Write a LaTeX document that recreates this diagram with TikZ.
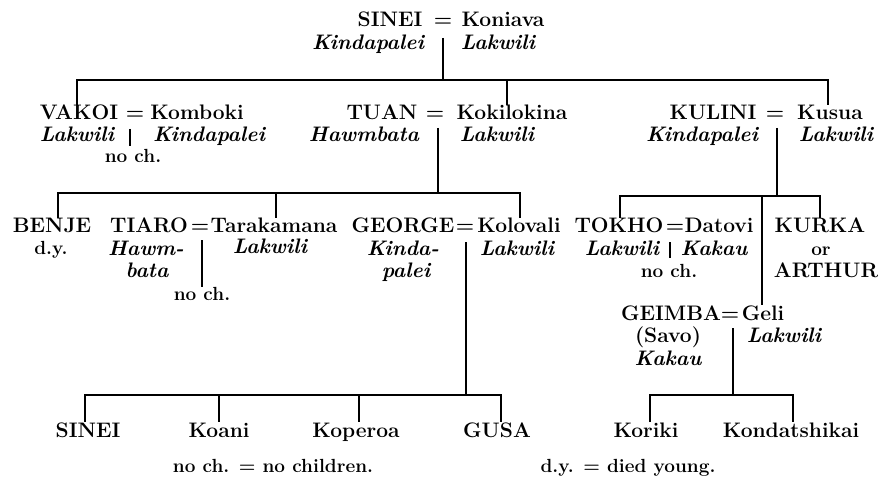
\documentclass[tikz,border=0pt]{standalone}
\begin{document}
\begin{tikzpicture}[x=1pt,y=-1pt,
  nm/.style={anchor=base,inner sep=0pt,font=\fontsize{21}{23}\selectfont\bfseries},
  cl/.style={anchor=base,inner sep=0pt,font=\fontsize{21}{23}\selectfont\bfseries\itshape},
  sm/.style={anchor=base,inner sep=0pt,font=\fontsize{19}{21}\selectfont\bfseries},
  ln/.style={line width=1.3pt}]
\useasboundingbox (0,0) rectangle (883,481);
% ---------- generation 0
\node[nm] (sinei0) at (390,27) {SINEI};
\node[nm] (eq0) at (443,27) {=};
\node[nm] (koniava) at (503,27) {Koniava};
\node[cl] (kin0) at (368,50) {Kindapalei};
\node[cl] (lak0) at (498,50) {Lakwili};
\coordinate (m0) at (443,38);
\coordinate (b0L) at (77,80);
\coordinate (b0R) at (828,80);
\coordinate (t0) at (507,80);
% ---------- generation 1
\node[nm] (vakoi) at (79,120) {VAKOI};
\node[nm] (eq1) at (135,120) {=};
\node[nm] (komboki) at (197,120) {Komboki};
\node[cl] (lak1) at (77,142) {Lakwili};
\node[cl] (kin1) at (209,142) {Kindapalei};
\node[sm] (noch1) at (133,163) {no ch.};
\coordinate (m1) at (130,129);
\coordinate (m1e) at (130,146);

\node[nm] (tuan) at (382,120) {TUAN};
\node[nm] (eq2) at (435,120) {=};
\node[nm] (kok) at (512,120) {Kokilokina};
\node[cl] (haw2) at (364,142) {Hawmbata};
\node[cl] (lak2) at (497,142) {Lakwili};
\coordinate (m2) at (438,128);
\coordinate (bAL) at (58,193);
\coordinate (bAR) at (520,193);
\coordinate (tA) at (276,193);

\node[nm] (kulini) at (713,120) {KULINI};
\node[nm] (eq3) at (775,120) {=};
\node[nm] (kusua) at (830,120) {Kusua};
\node[cl] (kin3) at (702,142) {Kindapalei};
\node[cl] (lak3) at (836,142) {Lakwili};
\coordinate (m3) at (777,128);
\coordinate (bBL) at (620,196);
\coordinate (bBR) at (820,196);
\coordinate (tB) at (762,196);
% ---------- generation 2 (Tuan)
\node[nm] (benje) at (52,233) {BENJE};
\node[sm] (dy) at (51,254) {d.y.};

\node[nm] (tiaro) at (149,233) {TIARO};
\node[nm] (eq4) at (200,233) {=};
\node[nm] (tarak) at (274,233) {Tarakamana};
\node[cl] (haw4) at (146,255) {Hawm-};
\node[cl] (bata) at (147,277) {bata};
\node[cl] (lak4) at (270,253) {Lakwili};
\node[sm] (noch4) at (202,300) {no ch.};
\coordinate (m4) at (202,240);

\node[nm] (george) at (403,233) {GEORGE};
\node[nm] (eq5) at (465,233) {=};
\node[nm] (kolovali) at (519,233) {Kolovali};
\node[cl] (kinda) at (403,255) {Kinda-};
\node[cl] (palei) at (406,277) {palei};
\node[cl] (lak5) at (517,255) {Lakwili};
\coordinate (m5) at (466,242);
\coordinate (bCL) at (85,395);
\coordinate (bCR) at (501,395);
\coordinate (c2) at (219,395);
\coordinate (c3) at (359,395);
% ---------- generation 2 (Kulini)
\node[nm] (tokho) at (619,233) {TOKHO};
\node[nm] (eq6) at (675,233) {=};
\node[nm] (datovi) at (719,233) {Datovi};
\node[cl] (lak6) at (622,255) {Lakwili};
\node[cl] (kakau6) at (714,255) {Kakau};
\node[sm] (noch6) at (669,277) {no ch.};
\coordinate (m6) at (670,242);
\coordinate (m6e) at (670,258);

\node[nm] (kurka) at (820,233) {KURKA};
\node[sm] (or) at (821,255) {or};
\node[nm] (arthur) at (826,277) {ARTHUR};

\node[nm] (geimba) at (671,320) {GEIMBA};
\node[nm] (eq7) at (730,320) {=};
\node[nm] (geli) at (763,320) {Geli};
\node[nm] (savo) at (668,342) {(Savo)};
\node[cl] (kakau7) at (668,365) {Kakau};
\node[cl] (lak7) at (784,342) {Lakwili};
\coordinate (m7) at (733,328);
\coordinate (bDL) at (650,395);
\coordinate (bDR) at (793,395);
% ---------- generation 3
\node[nm] (sinei3) at (88,437) {SINEI};
\node[nm] (koani) at (219,437) {Koani};
\node[nm] (koperoa) at (356,437) {Koperoa};
\node[nm] (gusa) at (497,437) {GUSA};
\node[nm] (koriki) at (646,437) {Koriki};
\node[nm] (kondat) at (791,437) {Kondatshikai};
% ---------- footnotes
\node[sm] (fn1) at (273,472) {no ch. = no children.};
\node[sm] (fn2) at (628,472) {d.y. = died young.};
% ---------- connectors
\draw[ln] (m0) -- (m0 |- b0L);
\draw[ln] (b0L |- vakoi.north) -- (b0L) -- (b0R) -- (b0R |- kusua.north);
\draw[ln] (t0) -- (t0 |- kok.north);
\draw[ln] (m1) -- (m1e);
\draw[ln] (m2) -- (m2 |- bAL);
\draw[ln] (bAL |- benje.north) -- (bAL) -- (bAR) -- (bAR |- kolovali.north);
\draw[ln] (tA) -- (tA |- tarak.north);
\draw[ln] (m3) -- (m3 |- bBL);
\draw[ln] (bBL |- tokho.north) -- (bBL) -- (bBR) -- (bBR |- kurka.north);
\draw[ln] (tB) -- (tB |- geli.north);
\draw[ln] (m4) -- (m4 |- noch4.north);
\draw[ln] (m5) -- (m5 |- bCL);
\draw[ln] (bCL |- sinei3.north) -- (bCL) -- (bCR) -- (bCR |- gusa.north);
\draw[ln] (c2) -- (c2 |- koani.north);
\draw[ln] (c3) -- (c3 |- koperoa.north);
\draw[ln] (m6) -- (m6e);
\draw[ln] (m7) -- (m7 |- bDL);
\draw[ln] (bDL |- koriki.north) -- (bDL) -- (bDR) -- (bDR |- kondat.north);
\end{tikzpicture}
\end{document}
